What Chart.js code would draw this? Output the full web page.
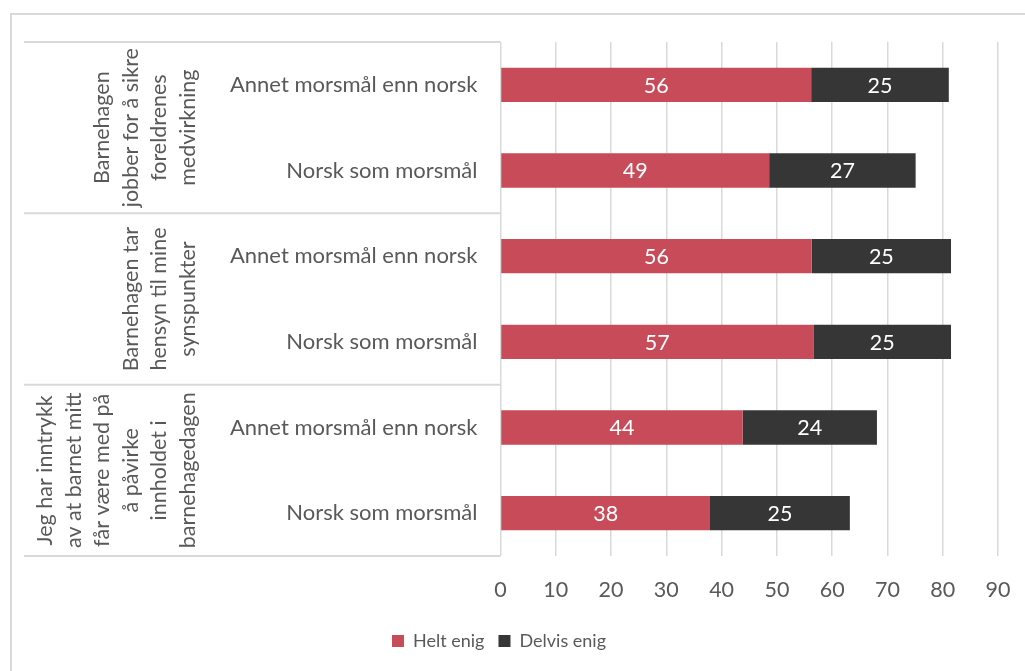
<!DOCTYPE html>
<html>
<head>
<meta charset="utf-8">
<script src="https://cdn.jsdelivr.net/npm/chart.js@4.4.1/dist/chart.umd.min.js"></script>
<style>
  html, body { margin: 0; padding: 0; background: #fff; }
  #wrap { width: 1025px; height: 671px; position: relative; }
</style>
</head>
<body>
<div id="wrap"><canvas id="chart" width="1025" height="671"></canvas></div>
<script>
// data
const subLabels = [
  "Annet morsmål enn norsk", "Norsk som morsmål",
  "Annet morsmål enn norsk", "Norsk som morsmål",
  "Annet morsmål enn norsk", "Norsk som morsmål"
];
const groupLabels = [
  ["Barnehagen", "jobber for å sikre", "foreldrenes", "medvirkning"],
  ["Barnehagen tar", "hensyn til mine", "synspunkter"],
  ["Jeg har inntrykk", "av at barnet mitt", "får være med på", "å påvirke", "innholdet i", "barnehagedagen"]
];
const heltEnig = [56.2, 48.6, 56.3, 56.6, 43.8, 37.9];
const delvisEnig = [24.9, 26.5, 25.2, 24.9, 24.3, 25.3];
const xTicks = [0, 10, 20, 30, 40, 50, 60, 70, 80, 90];

const FONT = "Lato, 'Open Sans', sans-serif";
const SIZE = 22;
const GREY = "#595959";

const framePlugin = {
  id: "frame",
  beforeDraw(chart) {
    const ctx = chart.ctx;
    ctx.save();
    ctx.strokeStyle = "#d9d9d9";
    ctx.lineWidth = 2;
    ctx.strokeRect(11, 14, 1100, 1000);
    ctx.restore();
  }
};

// group labels + table lines on the left
const groupPlugin = {
  id: "groups",
  afterDraw(chart) {
    const ctx = chart.ctx;
    const y = chart.scales.y;
    const top = chart.chartArea.top, bottom = chart.chartArea.bottom;
    const step = (bottom - top) / subLabels.length;
    ctx.save();
    ctx.strokeStyle = "#d9d9d9";
    ctx.lineWidth = 2;
    for (let g = 0; g <= groupLabels.length; g++) {
      const yy = top + g * 2 * step;
      ctx.beginPath();
      ctx.moveTo(24, yy);
      ctx.lineTo(chart.chartArea.left, yy);
      ctx.stroke();
    }
    ctx.fillStyle = GREY;
    ctx.font = "21.5px " + FONT;
    ctx.textAlign = "center";
    ctx.textBaseline = "middle";
    groupLabels.forEach((lines, g) => {
      const cy = (y.getPixelForValue(g * 2) + y.getPixelForValue(g * 2 + 1)) / 2;
      const n = lines.length;
      lines.forEach((line, i) => {
        const cx = 188 - (n - 1 - i) * 28.5;
        ctx.save();
        ctx.translate(cx, cy);
        ctx.rotate(-Math.PI / 2);
        ctx.fillText(line, 0, 0);
        ctx.restore();
      });
    });
    ctx.restore();
  }
};

const valuePlugin = {
  id: "values",
  afterDatasetsDraw(chart) {
    const ctx = chart.ctx;
    ctx.save();
    ctx.fillStyle = "#fff";
    ctx.font = "21.5px " + FONT;
    ctx.textAlign = "center";
    ctx.textBaseline = "middle";
    chart.data.datasets.forEach((ds, di) => {
      chart.getDatasetMeta(di).data.forEach((bar, i) => {
        const p = bar.getCenterPoint();
        ctx.fillText(Math.round(ds.data[i]), p.x, p.y + 1);
      });
    });
    ctx.restore();
  }
};

new Chart(document.getElementById("chart"), {
  type: "bar",
  data: {
    labels: subLabels,
    datasets: [
      { label: "Helt enig", data: heltEnig, backgroundColor: "#c84b5a" },
      { label: "Delvis enig", data: delvisEnig, backgroundColor: "#363636" }
    ]
  },
  options: {
    indexAxis: "y",
    responsive: false,
    animation: false,
    devicePixelRatio: 1,
    barPercentage: 0.4,
    categoryPercentage: 1,
    layout: { padding: { top: 42, right: 27, bottom: 11, left: 0 } },
    scales: {
      x: {
        stacked: true,
        min: 0,
        max: 90,
        afterBuildTicks(scale) { scale.ticks = xTicks.map(v => ({ value: v })); },
        afterFit(scale) {
          scale.height = 62;
          scale.paddingRight = 0;
          scale.paddingLeft = 0;
        },
        grid: { color: "#d9d9d9", lineWidth: 1.5, drawTicks: false },
        border: { display: false },
        ticks: { color: GREY, font: { family: FONT, size: 21.5 }, padding: 21 }
      },
      y: {
        stacked: true,
        afterFit(scale) { scale.width = 500.5; },
        grid: { display: false, drawTicks: false },
        border: { display: false },
        ticks: { color: GREY, font: { family: FONT, size: SIZE }, padding: 23 }
      }
    },
    plugins: {
      legend: {
        position: "bottom",
        labels: {
          color: GREY,
          font: { family: FONT, size: 18 },
          boxWidth: 12,
          boxHeight: 12,
          padding: 14
        }
      },
      tooltip: { enabled: false }
    }
  },
  plugins: [framePlugin, groupPlugin, valuePlugin]
});
</script>
</body>
</html>
